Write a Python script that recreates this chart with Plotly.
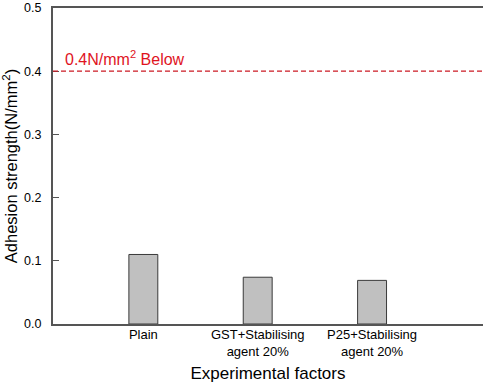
import plotly.graph_objects as go

categories = ["Plain", "GST+Stabilising<br>agent 20%", "P25+Stabilising<br>agent 20%"]
values = [0.11, 0.074, 0.069]
y_ticks = [0.0, 0.1, 0.2, 0.3, 0.4, 0.5]
threshold = 0.4
threshold_label = "0.4N/mm<sup>2</sup> Below"

fig = go.Figure()
fig.add_trace(go.Bar(
    x=list(range(len(categories))), y=values, width=0.253,
    marker=dict(color="#c0c0c0", line=dict(color="#3a3a3a", width=1)),
    showlegend=False,
))

fig.add_shape(type="line", xref="paper", x0=0, x1=1, yref="y", y0=threshold, y1=threshold,
              line=dict(color="#cc1a24", width=1.2, dash="5px,3px"))
fig.add_annotation(x=-0.705, y=threshold, xref="x", yref="y", text=threshold_label,
                   showarrow=False, xanchor="left", yanchor="bottom", yshift=1,
                   font=dict(color="#e0141e", size=16, family="Arial"))

fig.update_layout(
    width=483, height=386,
    margin=dict(l=53, r=0, t=8, b=62),
    plot_bgcolor="white", paper_bgcolor="white",
    font=dict(family="Arial", size=12, color="black"),
    xaxis=dict(
        range=[-0.79, 2.97], tickvals=list(range(len(categories))), ticktext=categories,
        tickfont=dict(size=13), ticklabelstandoff=-3,
        showline=True, linecolor="#555555", linewidth=2, mirror=True, ticks="",
        showgrid=False, zeroline=False,
        title=dict(text="Experimental factors", font=dict(size=17), standoff=10),
    ),
    yaxis=dict(
        range=[0, 0.5], tickvals=y_ticks, tickformat=".1f",
        tickfont=dict(size=12.5),
        showline=True, linecolor="#555555", linewidth=2,
        ticks="inside", ticklen=6, tickcolor="#555555",
        ticklabelstandoff=7,
        showgrid=False, zeroline=False,
        title=dict(text="Adhesion strength(N/mm<sup>2</sup>)", font=dict(size=16.5), standoff=2),
    ),
)

fig.write_html("out.html", config={"displayModeBar": False},
               post_script="document.body.style.margin='0';document.body.style.overflow='hidden';")
